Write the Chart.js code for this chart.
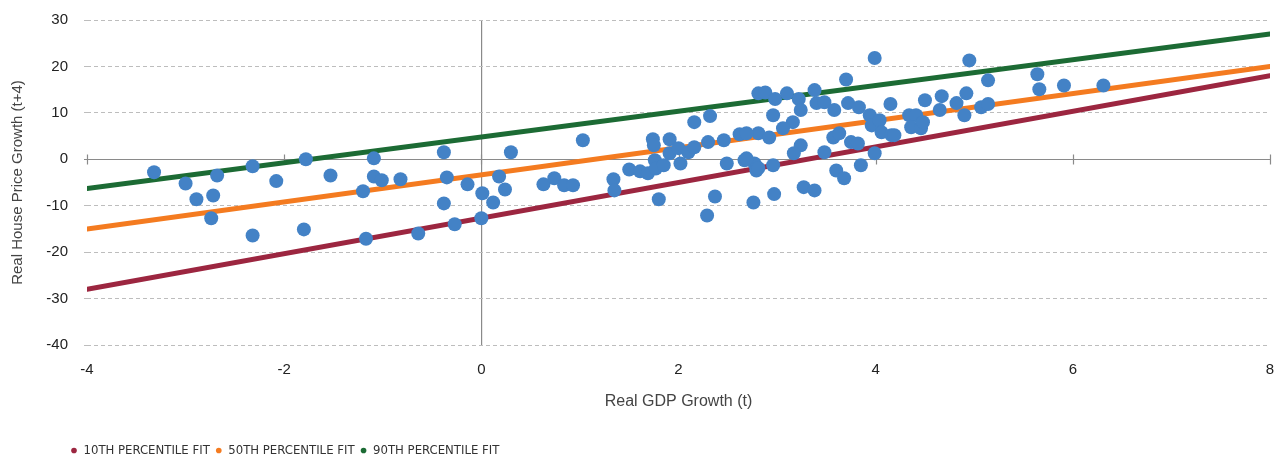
<!DOCTYPE html>
<html>
<head>
<meta charset="utf-8">
<script src="https://cdn.jsdelivr.net/npm/chart.js@4.4.0/dist/chart.umd.min.js"></script>
<style>
  html, body { margin: 0; padding: 0; background: #ffffff; }
  #wrap { width: 1283px; height: 459px; }
</style>
</head>
<body>
<div id="wrap"><canvas id="chart" width="1283" height="459"></canvas></div>
<script>
// Observations: real GDP growth (t) vs real house price growth (t+4)
const gdpGrowth = [
  -3.32, -3.00, -2.89, -2.72, -2.68, -2.74, -2.32, -2.32, -2.08, -1.78,
  -1.80, -1.53, -1.20, -1.17, -1.09, -1.09, -1.01, -0.82, -0.64, -0.38,
  -0.35, -0.38, -0.27, -0.14, 0.00, 0.01, 0.12, 0.18, 0.24, 0.30,
  1.03, 0.63, 0.74, 0.84, 0.93, 1.34, 1.35, 1.50, 1.61, 1.69,
  1.80, 1.74, 1.75, 1.76, 1.77, 1.85, 1.91, 1.91, 2.02, 2.00,
  2.10, 2.16, 2.16, 2.32, 2.30, 2.46, 2.49, 2.62, 2.67, 2.77,
  2.79, 2.29, 2.37, 2.76, 2.81, 2.81, 2.88, 2.98, 3.10, 3.22,
  3.38, 3.40, 3.48, 3.58, 3.70, 3.72, 3.83, 3.24, 2.96, 3.16,
  3.06, 2.92, 2.69, 3.24, 3.17, 3.57, 3.63, 3.75, 3.82, 3.94,
  3.96, 3.99, 3.48, 2.69, 2.81, 2.96, 3.60, 3.68, 3.85, 3.27,
  3.38, 2.97, 3.99, 4.95, 5.14, 4.15, 4.50, 4.67, 4.92, 4.65,
  4.82, 4.90, 5.07, 5.14, 4.04, 4.06, 4.16, 4.19, 4.34, 4.41,
  4.36, 4.46, 4.48, 5.64, 5.66, 5.91, 6.31
];
const housePriceGrowth = [
  -2.8, -5.2, -8.6, -7.8, -3.5, -12.7, -16.4, -1.5, -4.7, 0.0,
  -15.1, -3.5, -6.9, -17.1, 0.2, -3.7, -4.5, -4.3, -16.0, 1.5,
  -3.9, -9.5, -14.0, -5.4, -12.7, -7.3, -9.3, -3.7, -6.5, 1.5,
  4.1, -5.4, -4.1, -5.6, -5.6, -4.3, -6.7, -2.2, -2.6, -3.0,
  -8.6, 4.3, 3.0, -0.2, -2.0, -1.3, 4.3, 1.3, -0.9, 2.4,
  1.5, 8.0, 2.6, 9.3, 3.7, 4.1, -0.9, 5.4, -0.2, -0.9,
  -2.4, -12.1, -8.0, -9.3, 14.2, 5.6, 14.4, 13.0, 14.2, 13.0,
  14.9, 12.1, 12.3, 10.6, 17.2, 12.1, 11.2, 10.6, 9.5, 8.0,
  6.7, 4.7, 5.6, 3.0, 1.3, 4.7, 5.6, 3.7, 3.4, 9.5,
  7.3, 1.3, 1.5, 0.2, -1.9, -1.3, -2.4, -4.1, -1.3, -6.0,
  -6.7, -7.5, 21.8, 21.3, 17.0, 11.9, 12.7, 13.6, 14.2, 10.6,
  12.1, 9.5, 11.2, 11.9, 8.4, 5.8, 5.2, 5.2, 9.5, 9.5,
  6.9, 6.7, 8.0, 18.3, 15.1, 15.9, 15.9
];

// Quantile regression fits, evaluated at the ends of the GDP range
const fitGdp = [-4, 8];
const fit10th = [-28, 18];
const fit50th = [-15, 20];
const fit90th = [-6.3, 27];
const fitNames = ['10TH PERCENTILE FIT', '50TH PERCENTILE FIT', '90TH PERCENTILE FIT'];

// Axis ticks
const xTickValues = [-4, -2, 0, 2, 4, 6, 8];
const yTickValues = [-40, -30, -20, -10, 0, 10, 20, 30];
const xTitle = 'Real GDP Growth (t)';
const yTitle = 'Real House Price Growth (t+4)';

const toPoints = (xs, ys) => xs.map((x, i) => ({ x: x, y: ys[i] }));

const COLORS = {
  dots: '#4382c6',
  p10: '#9c2640',
  p50: '#f47b20',
  p90: '#1c6b34'
};

const AXIS_FONT = "'Liberation Sans', Arial, sans-serif";
const LEGEND_FONT = "'Liberation Sans Narrow', 'DejaVu Sans Condensed', 'Liberation Sans', sans-serif";

// Solid zero line across the plot, with small tick marks at each x tick
const zeroLinePlugin = {
  id: 'zeroLine',
  beforeDatasetsDraw(chart) {
    const { ctx, chartArea, scales } = chart;
    const y0 = Math.round(scales.y.getPixelForValue(0)) + 0.5;
    ctx.save();
    ctx.strokeStyle = '#8a8a8a';
    ctx.lineWidth = 1.2;
    ctx.beginPath();
    ctx.moveTo(chartArea.left - 3, y0);
    ctx.lineTo(chartArea.right, y0);
    xTickValues.forEach(v => {
      const px = Math.round(scales.x.getPixelForValue(v)) + 0.5;
      ctx.moveTo(px, y0 - 5);
      ctx.lineTo(px, y0 + 5);
    });
    ctx.stroke();
    ctx.restore();
  }
};

// Place the legend row under the left part of the chart
const legendOffsetPlugin = {
  id: 'legendOffset',
  afterLayout(chart) {
    const lg = chart.legend;
    if (!lg) return;
    const dx = 65, dy = 8;
    lg.left += dx; lg.right += dx;
    lg.top += dy; lg.bottom += dy;
  }
};

new Chart(document.getElementById('chart'), {
  data: {
    datasets: [
      {
        type: 'scatter',
        label: 'Observations',
        data: toPoints(gdpGrowth, housePriceGrowth),
        backgroundColor: COLORS.dots,
        borderWidth: 0,
        pointRadius: 7,
        pointHoverRadius: 7,
        order: 0
      },
      {
        type: 'line',
        label: fitNames[0],
        data: toPoints(fitGdp, fit10th),
        borderColor: COLORS.p10,
        backgroundColor: COLORS.p10,
        borderWidth: 5,
        borderCapStyle: 'round',
        pointRadius: 0,
        fill: false,
        order: 1
      },
      {
        type: 'line',
        label: fitNames[1],
        data: toPoints(fitGdp, fit50th),
        borderColor: COLORS.p50,
        backgroundColor: COLORS.p50,
        borderWidth: 5,
        borderCapStyle: 'round',
        pointRadius: 0,
        fill: false,
        order: 2
      },
      {
        type: 'line',
        label: fitNames[2],
        data: toPoints(fitGdp, fit90th),
        borderColor: COLORS.p90,
        backgroundColor: COLORS.p90,
        borderWidth: 5,
        borderCapStyle: 'round',
        pointRadius: 0,
        fill: false,
        order: 3
      }
    ]
  },
  options: {
    responsive: false,
    animation: false,
    devicePixelRatio: 1,
    layout: { padding: { top: 20, right: 13, bottom: 0, left: 0 } },
    plugins: {
      tooltip: { enabled: false },
      legend: {
        position: 'bottom',
        align: 'start',
        labels: {
          usePointStyle: true,
          boxWidth: 6,
          boxHeight: 4,
          padding: 6,
          color: '#333333',
          font: { family: LEGEND_FONT, size: 13 },
          filter: item => item.datasetIndex > 0,
          generateLabels(chart) {
            const items = Chart.defaults.plugins.legend.labels.generateLabels(chart);
            items.forEach(it => {
              const ds = chart.data.datasets[it.datasetIndex];
              it.pointStyle = 'circle';
              it.fillStyle = ds.borderColor;
              it.strokeStyle = ds.borderColor;
              it.lineWidth = 0;
            });
            return items;
          }
        }
      }
    },
    scales: {
      x: {
        type: 'linear',
        min: xTickValues[0],
        max: xTickValues[xTickValues.length - 1],
        afterBuildTicks: s => { s.ticks = xTickValues.map(v => ({ value: v })); },
        afterFit: s => { s.height = 85; s.paddingLeft = 0; s.paddingRight = 0; },
        border: { display: false },
        grid: {
          drawTicks: false,
          lineWidth: 1.2,
          color: c => (c.tick && c.tick.value === 0 ? '#8a8a8a' : 'rgba(0,0,0,0)')
        },
        ticks: {
          padding: 16,
          color: '#222222',
          font: { family: AXIS_FONT, size: 15 }
        },
        title: {
          display: true,
          text: xTitle,
          color: '#444444',
          font: { family: AXIS_FONT, size: 16 },
          padding: { top: 0, bottom: 19 }
        }
      },
      y: {
        type: 'linear',
        min: yTickValues[0],
        max: yTickValues[yTickValues.length - 1],
        afterBuildTicks: s => { s.ticks = yTickValues.map(v => ({ value: v })); },
        afterFit: s => { s.width = 87; s.paddingTop = 0; s.paddingBottom = 0; },
        border: { display: false, dash: [4, 3] },
        grid: {
          drawTicks: true,
          tickLength: 3,
          lineWidth: 1,
          color: c => (c.tick && c.tick.value === 0 ? 'rgba(0,0,0,0)' : '#bdbdbd'),
          tickColor: c => (c.tick && c.tick.value === 0 ? 'rgba(0,0,0,0)' : '#bdbdbd')
        },
        ticks: {
          padding: 16,
          color: '#222222',
          font: { family: AXIS_FONT, size: 15 }
        },
        title: {
          display: true,
          text: yTitle,
          color: '#444444',
          font: { family: AXIS_FONT, size: 15 },
          padding: { top: 9, bottom: 0 }
        }
      }
    }
  },
  plugins: [zeroLinePlugin, legendOffsetPlugin]
});
</script>
</body>
</html>
